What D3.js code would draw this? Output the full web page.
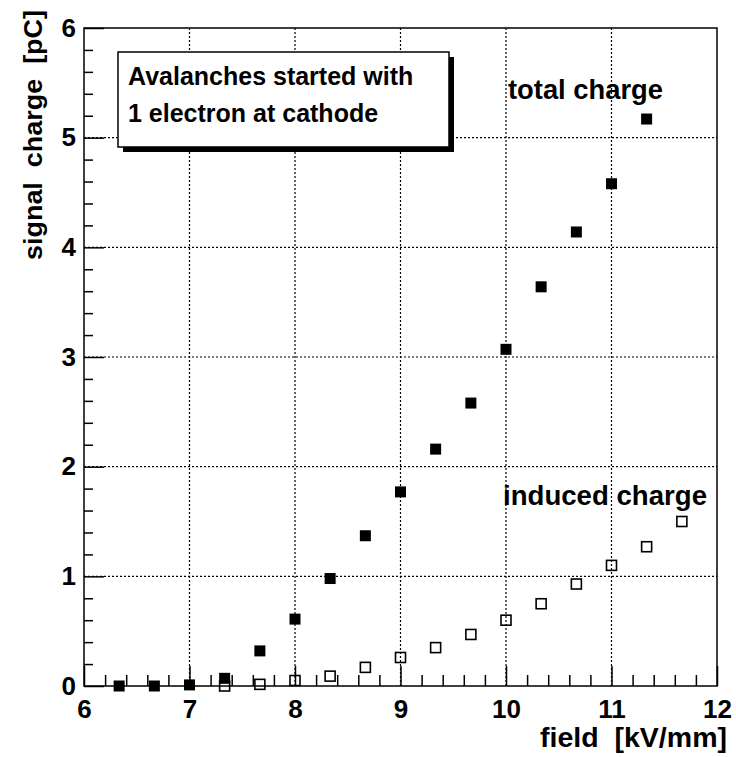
<!DOCTYPE html>
<html>
<head>
<meta charset="utf-8">
<script src="https://cdn.jsdelivr.net/npm/d3@7"></script>
<style>
  html, body { margin: 0; padding: 0; background: #fff; }
  svg { display: block; }
  text { font-family: "Liberation Sans", Arial, Helvetica, sans-serif; fill: #000; }
</style>
</head>
<body>
<svg id="chart" width="736" height="757"></svg>
<script>
// Field values (kV/mm) and signal charges (pC)
const fieldTotal = [6.333, 6.667, 7.0, 7.333, 7.667, 8.0, 8.333, 8.667, 9.0, 9.333, 9.667, 10.0, 10.333, 10.667, 11.0, 11.333];
const totalCharge = [0.0, 0.0, 0.01, 0.07, 0.32, 0.61, 0.98, 1.37, 1.77, 2.16, 2.58, 3.07, 3.64, 4.14, 4.58, 5.17];

const fieldInduced = [7.333, 7.667, 8.0, 8.333, 8.667, 9.0, 9.333, 9.667, 10.0, 10.333, 10.667, 11.0, 11.333, 11.667];
const inducedCharge = [0.0, 0.015, 0.05, 0.09, 0.17, 0.26, 0.35, 0.47, 0.60, 0.75, 0.93, 1.10, 1.27, 1.50];

const xTicks = [6, 7, 8, 9, 10, 11, 12];
const yTicks = [0, 1, 2, 3, 4, 5, 6];

const xTitle = "field  [kV/mm]";
const yTitle = "signal  charge  [pC]";
const noteLines = ["Avalanches started with", "1 electron at cathode"];
const totalLabel = "total charge";
const inducedLabel = "induced charge";

const svg = d3.select("#chart");
const plotL = 84, plotR = 717, plotT = 28, plotB = 686;

const x = d3.scaleLinear().domain([6, 12]).range([plotL, plotR]);
const y = d3.scaleLinear().domain([0, 6]).range([plotB, plotT]);

// Dotted grid at the major ticks
const grid = svg.append("g").attr("stroke", "#000").attr("stroke-width", 1.2).attr("stroke-dasharray", "2,2");
grid.selectAll("line.gx").data(xTicks.slice(1, -1)).join("line").attr("class", "gx")
  .attr("x1", d => x(d)).attr("x2", d => x(d)).attr("y1", plotT).attr("y2", plotB);
grid.selectAll("line.gy").data(yTicks.slice(1, -1)).join("line").attr("class", "gy")
  .attr("x1", plotL).attr("x2", plotR).attr("y1", d => y(d)).attr("y2", d => y(d));

// Minor ticks (every 0.2)
const xMinor = d3.range(6, 12.001, 0.2).filter(v => Math.abs(v - Math.round(v)) > 1e-6);
const yMinor = d3.range(0, 6.001, 0.2).filter(v => Math.abs(v - Math.round(v)) > 1e-6);

const xMinorAxis = svg.append("g").attr("transform", `translate(0,${plotB})`)
  .call(d3.axisBottom(x).tickValues(xMinor).tickSize(-11).tickFormat(""));
const yMinorAxis = svg.append("g").attr("transform", `translate(${plotL},0)`)
  .call(d3.axisLeft(y).tickValues(yMinor).tickSize(-9).tickFormat(""));

// Major ticks with labels
const xAxis = svg.append("g").attr("transform", `translate(0,${plotB})`)
  .call(d3.axisBottom(x).tickValues(xTicks).tickSize(-20).tickPadding(14).tickFormat(d3.format("d")));
const yAxis = svg.append("g").attr("transform", `translate(${plotL},0)`)
  .call(d3.axisLeft(y).tickValues(yTicks).tickSize(-20).tickPadding(8).tickFormat(d3.format("d")));

[xMinorAxis, yMinorAxis, xAxis, yAxis].forEach(g => {
  g.select(".domain").remove();
  g.selectAll(".tick line").attr("stroke", "#000").attr("stroke-width", 1.5);
});
[xAxis, yAxis].forEach(g => {
  g.selectAll(".tick text")
    .attr("font-family", "Liberation Sans, Arial, sans-serif")
    .attr("font-size", 26).attr("font-weight", "bold").attr("fill", "#000");
});

// Frame
svg.append("rect").attr("x", plotL).attr("y", plotT)
  .attr("width", plotR - plotL).attr("height", plotB - plotT)
  .attr("fill", "none").attr("stroke", "#000").attr("stroke-width", 1.5);

// Total charge: filled squares
const sFill = 11;
svg.append("g").selectAll("rect").data(fieldTotal.map((f, i) => [f, totalCharge[i]])).join("rect")
  .attr("x", d => x(d[0]) - sFill / 2).attr("y", d => y(d[1]) - sFill / 2)
  .attr("width", sFill).attr("height", sFill).attr("fill", "#000");

// Induced charge: open squares
const sOpen = 10;
svg.append("g").selectAll("rect").data(fieldInduced.map((f, i) => [f, inducedCharge[i]])).join("rect")
  .attr("x", d => x(d[0]) - sOpen / 2).attr("y", d => y(d[1]) - sOpen / 2)
  .attr("width", sOpen).attr("height", sOpen)
  .attr("fill", "none").attr("stroke", "#000").attr("stroke-width", 1.6);

// Note box with drop shadow
const box = { x: 118, y: 52, w: 331, h: 95 };
svg.append("rect").attr("x", box.x + 5).attr("y", box.y + 5).attr("width", box.w).attr("height", box.h).attr("fill", "#000");
svg.append("rect").attr("x", box.x).attr("y", box.y).attr("width", box.w).attr("height", box.h)
  .attr("fill", "#fff").attr("stroke", "#000").attr("stroke-width", 1.5);
svg.selectAll("text.note").data(noteLines).join("text").attr("class", "note")
  .attr("x", 128).attr("y", (d, i) => 85 + i * 37)
  .attr("font-size", 25).attr("font-weight", "bold")
  .text(d => d);

// Series labels
svg.append("text").attr("x", 508).attr("y", 99)
  .attr("font-size", 27).attr("font-weight", "bold")
  .attr("textLength", 155).attr("lengthAdjust", "spacingAndGlyphs")
  .text(totalLabel);
svg.append("text").attr("x", 503).attr("y", 505)
  .attr("font-size", 28).attr("font-weight", "bold")
  .attr("textLength", 204).attr("lengthAdjust", "spacingAndGlyphs")
  .text(inducedLabel);

// Axis titles
svg.append("text").attr("x", 540).attr("y", 747)
  .attr("font-size", 27).attr("font-weight", "bold")
  .attr("textLength", 187).attr("lengthAdjust", "spacingAndGlyphs")
  .style("white-space", "pre")
  .text(xTitle);
svg.append("text").attr("transform", "translate(42,260) rotate(-90)")
  .attr("x", 0).attr("y", 0)
  .attr("font-size", 26).attr("font-weight", "bold")
  .attr("textLength", 250).attr("lengthAdjust", "spacingAndGlyphs")
  .style("white-space", "pre")
  .text(yTitle);
</script>
</body>
</html>
